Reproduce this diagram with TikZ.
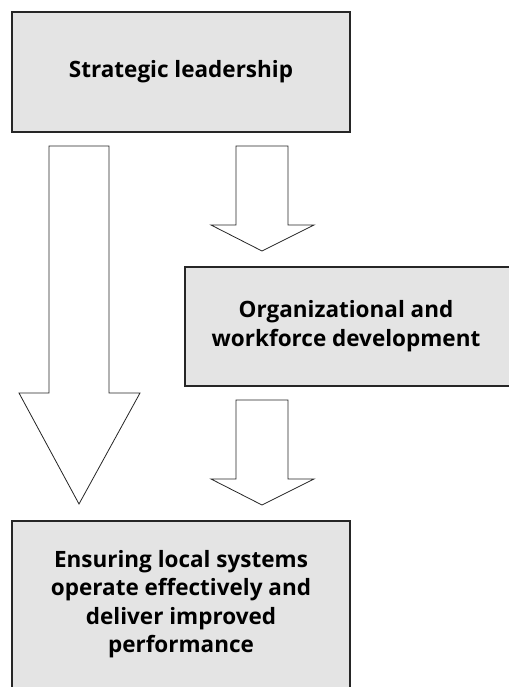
\documentclass[tikz,border=0pt]{standalone}
\usepackage{fontspec}
\setmainfont{Open Sans}
\begin{document}
\begin{tikzpicture}[x=1pt,y=-1pt,
  box/.style={draw=black!85,line width=1.2pt,fill=boxgray},
  lbl/.style={align=center,font=\bfseries\fontsize{22.5}{28.5}\selectfont,text=black},
  blockarrow/.style={draw=black!85,line width=0.8pt,fill=white,line join=miter}]
\definecolor{boxgray}{HTML}{E4E4E4}
\useasboundingbox (0,0) rectangle (508,687);
% boxes
\draw[box] (12,12) rectangle (350,132);
\draw[box] (185,267) rectangle (512,386);
\draw[box] (12,521) rectangle (350,692);
\node[lbl] (lead) at (181,72) {Strategic leadership};
\node[lbl] (org) at (346,326) {Organizational and\\workforce development};
\node[lbl] (ens) at (181,604) {Ensuring local systems\\operate effectively and\\deliver improved\\performance};
% arrows
\draw[blockarrow] (49,146) -- (109,146) -- (109,393) -- (140,393) -- (79,504) -- (19,393) -- (49,393) -- cycle;
\draw[blockarrow] (236,146) -- (288,146) -- (288,225) -- (314,225) -- (262,251) -- (211,225) -- (236,225) -- cycle;
\draw[blockarrow] (236,400) -- (288,400) -- (288,479) -- (314,479) -- (262,505) -- (211,479) -- (236,479) -- cycle;
\end{tikzpicture}
\end{document}
